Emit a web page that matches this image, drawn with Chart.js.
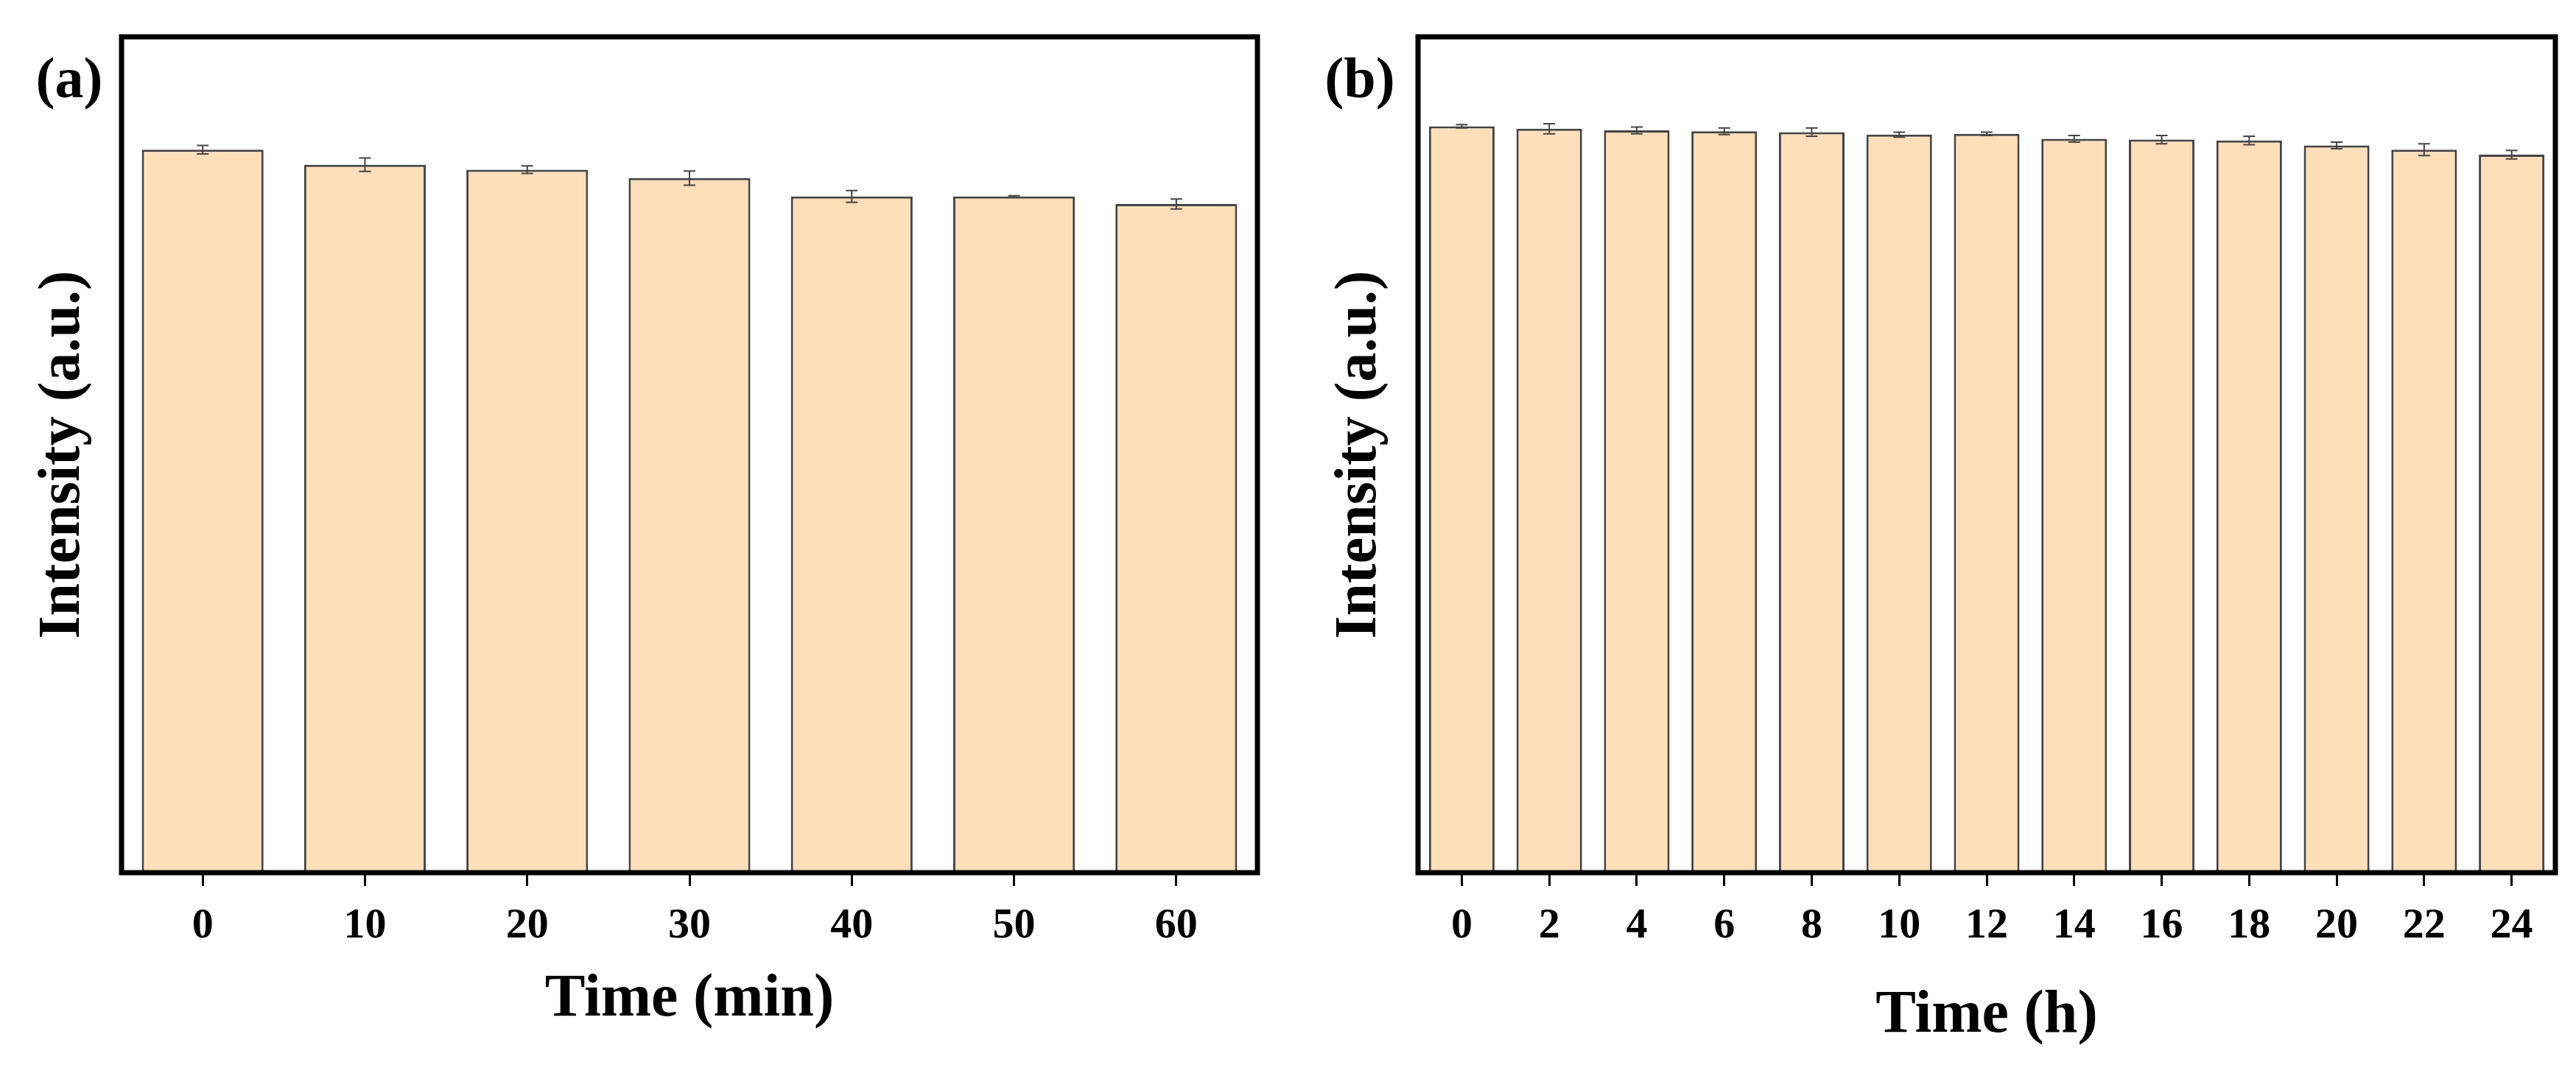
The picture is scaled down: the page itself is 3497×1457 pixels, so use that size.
<!DOCTYPE html>
<html>
<head>
<meta charset="utf-8">
<script src="https://cdn.jsdelivr.net/npm/chart.js@4"></script>
<style>
  html, body { margin: 0; padding: 0; background: #fff; }
  .panel { position: absolute; top: 0; height: 1457px; }
</style>
</head>
<body>
<div class="panel" style="left:0;width:1730px;"><canvas id="chartA"></canvas></div>
<div class="panel" style="left:1760px;width:1737px;"><canvas id="chartB"></canvas></div>
<script>
// Panel (a): time in minutes
var labelsA = ['0', '10', '20', '30', '40', '50', '60'];
var valuesA = [86.5, 84.7, 84.1, 83.1, 80.9, 80.9, 80.0];
var errorsA = [0.5, 0.8, 0.45, 0.85, 0.7, 0.1, 0.6];

// Panel (b): time in hours
var labelsB = ['0', '2', '4', '6', '8', '10', '12', '14', '16', '18', '20', '22', '24'];
var valuesB = [89.3, 89.0, 88.8, 88.7, 88.6, 88.3, 88.4, 87.8, 87.7, 87.6, 87.0, 86.5, 85.9];
var errorsB = [0.2, 0.6, 0.4, 0.4, 0.5, 0.3, 0.2, 0.4, 0.5, 0.5, 0.4, 0.7, 0.5];

var serif = "'Liberation Serif', 'Times New Roman', serif";

// error bars + frame + panel letter
var decorPlugin = {
    id: 'decor',
    afterDatasetsDraw: function(chart, args, opts) {
        var ctx = chart.ctx;
        var meta = chart.getDatasetMeta(0);
        var y = chart.scales.y;
        ctx.save();
        ctx.strokeStyle = '#444';
        ctx.lineWidth = 2;
        meta.data.forEach(function(bar, i) {
            var v = opts.values[i], e = opts.errors[i];
            var yTop = y.getPixelForValue(v + e);
            var yBot = y.getPixelForValue(v - e);
            ctx.beginPath();
            ctx.moveTo(bar.x, yTop); ctx.lineTo(bar.x, yBot);
            ctx.moveTo(bar.x - 8, yTop); ctx.lineTo(bar.x + 8, yTop);
            ctx.moveTo(bar.x - 8, yBot); ctx.lineTo(bar.x + 8, yBot);
            ctx.stroke();
        });
        var a = chart.chartArea;
        ctx.strokeStyle = '#000';
        ctx.lineWidth = 7;
        ctx.strokeRect(a.left, a.top, a.right - a.left, a.bottom - a.top);
        ctx.fillStyle = '#000';
        ctx.font = 'bold 78px ' + serif;
        ctx.textAlign = 'center';
        ctx.textBaseline = 'middle';
        ctx.fillText(opts.letter, opts.letterX, 112);
        ctx.restore();
    }
};

function makeChart(id, labels, values, errors, xTitle, titleBottom, letter, letterX, rightPad) {
    new Chart(document.getElementById(id).getContext('2d'), {
        type: 'bar',
        data: {
            labels: labels,
            datasets: [{
                data: values,
                backgroundColor: '#FFDEBA',
                borderColor: '#444',
                borderWidth: 3,
                categoryPercentage: 1,
                barPercentage: 0.75
            }]
        },
        options: {
            responsive: true,
            maintainAspectRatio: false,
            animation: false,
            layout: { padding: { top: 50, right: rightPad } },
            plugins: {
                legend: { display: false },
                tooltip: { enabled: false },
                decor: { values: values, errors: errors, letter: letter, letterX: letterX }
            },
            scales: {
                x: {
                    grid: { offset: false, drawOnChartArea: false, drawTicks: true, tickLength: 18, color: '#000', lineWidth: 3 },
                    border: { display: false },
                    ticks: { color: '#000', padding: 20, maxRotation: 0, autoSkip: false, font: { size: 58, weight: 'bold', family: serif } },
                    title: { display: true, text: xTitle, color: '#000', padding: { top: 0, bottom: titleBottom }, font: { size: 82, weight: 'bold', family: serif } },
                    afterFit: function(s) { s.height = 272; }
                },
                y: {
                    min: 0, max: 100,
                    grid: { display: false },
                    border: { display: false },
                    ticks: { display: false },
                    title: { display: true, text: 'Intensity (a.u.)', color: '#000', padding: { top: 38, bottom: 0 }, font: { size: 80, weight: 'bold', family: serif } },
                    afterFit: function(s) { s.width = 165; }
                }
            }
        },
        plugins: [decorPlugin]
    });
}

makeChart('chartA', labelsA, valuesA, errorsA, 'Time (min)', 50, '(a)', 94, 23);
makeChart('chartB', labelsB, valuesB, errorsB, 'Time (h)', 28, '(b)', 86, 28);
</script>
</body>
</html>
